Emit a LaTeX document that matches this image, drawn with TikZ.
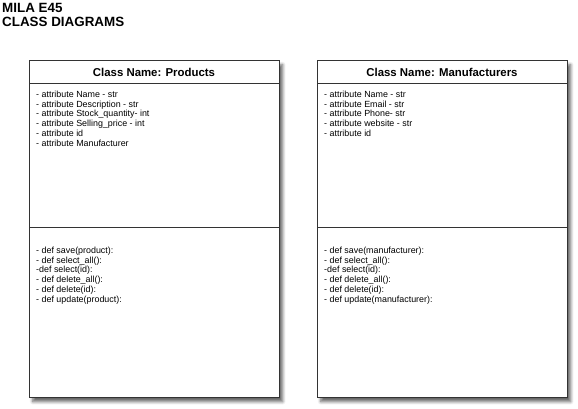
\documentclass[tikz,border=0pt]{standalone}
\usepackage{fontspec}
\setmainfont{Liberation Sans}
\usetikzlibrary{shadows.blur}
\begin{document}
\begin{tikzpicture}[x=1pt,y=-1pt,
  classbox/.style={draw=black!80, line width=1.4pt, fill=white,
    blur shadow={shadow xshift=3pt, shadow yshift=-4pt, shadow blur steps=6, shadow blur radius=3pt, shadow opacity=60}},
  part/.style={draw=black!80, line width=1pt},
  head/.style={font=\bfseries\fontsize{11.4}{13}\selectfont, anchor=center},
  body/.style={font=\fontsize{8.9}{9.9}\selectfont, align=left, anchor=north west, inner sep=0pt},
  ttl/.style={font=\bfseries\fontsize{13.4}{14}\selectfont, anchor=base west, inner sep=0pt}
]
\useasboundingbox (0,0) rectangle (578,409);
\node[ttl] (title1) at (2,13) {MILA E45};
\node[ttl] (title2) at (2,27) {CLASS DIAGRAMS};

% Products
\node[classbox, minimum width=250pt, minimum height=337pt, anchor=north west, inner sep=0pt] (p) at (29,60) {};
\coordinate (p1l) at (29,84); \coordinate (p1r) at (279,84);
\coordinate (p2l) at (29,227); \coordinate (p2r) at (279,227);
\draw[part] (p1l) -- (p1r);
\draw[part] (p2l) -- (p2r);
\node[head] (ph) at (154,72.5) {Class Name: Products};
\node[body] (pa) at (36,90.5) {- attribute Name - str\\- attribute Description - str\\- attribute Stock\_quantity- int\\- attribute Selling\_price - int\\- attribute id\\- attribute Manufacturer};
\node[body] (pm) at (36,246.5) {- def save(product):\\- def select\_all():\\-def select(id):\\- def delete\_all():\\- def delete(id):\\- def update(product):};

% Manufacturers
\node[classbox, minimum width=250pt, minimum height=337pt, anchor=north west, inner sep=0pt] (m) at (317,60) {};
\coordinate (m1l) at (317,84); \coordinate (m1r) at (567,84);
\coordinate (m2l) at (317,227); \coordinate (m2r) at (567,227);
\draw[part] (m1l) -- (m1r);
\draw[part] (m2l) -- (m2r);
\node[head] (mh) at (442,72.5) {Class Name: Manufacturers};
\node[body] (ma) at (324,90.5) {- attribute Name - str\\- attribute Email - str\\- attribute Phone- str\\- attribute website - str\\- attribute id};
\node[body] (mm) at (324,246.5) {- def save(manufacturer):\\- def select\_all():\\-def select(id):\\- def delete\_all():\\- def delete(id):\\- def update(manufacturer):};
\end{tikzpicture}
\end{document}
